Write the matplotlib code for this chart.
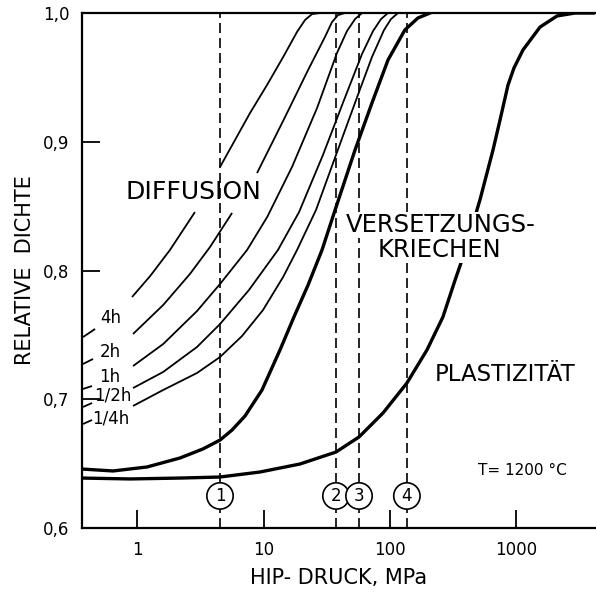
import matplotlib.pyplot as plt
import numpy as np

nan = np.nan

# HIP-Verdichtung bei T = 1200 °C: relative Dichte über HIP-Druck (MPa)
# nan = Lücke in der Linie (Beschriftung)
p_4h = [0.374, 0.466, nan, 0.913, 1.27, 1.82, 2.87, nan, 4.53, 7.82, 10.66, 14.3, 18.4, 21.3, 24.2, 28.0]
d_4h = [0.7483, 0.7546, nan, 0.7794, 0.7957, 0.8159, 0.8454, nan, 0.8804, 0.9223, 0.9441, 0.9658, 0.9853, 0.9946,
        0.9992, 1.0]

p_2h = [0.374, 0.449, nan, 0.93, 1.61, 2.62, 3.78, 5.64, nan, 8.89, 14.8, 22.5, 30.6, 34.8, 38.8, 44.1]
d_2h = [0.7274, 0.7313, nan, 0.7507, 0.7732, 0.7973, 0.8183, 0.8447, nan, 0.8757, 0.9192, 0.9557, 0.9814, 0.993,
        0.9984, 1.0]

p_1h = [0.374, 0.441, nan, 0.93, 1.61, 2.98, 4.53, 7.41, 10.7, 16.8, 26.5, 38.1, 45.7, 52.9, 60.1]
d_1h = [0.708, 0.7103, nan, 0.7258, 0.7429, 0.7685, 0.7895, 0.8159, 0.8416, 0.8804, 0.9262, 0.969, 0.986, 0.9953, 1.0]

p_half = [0.374, 0.441, nan, 0.93, 1.61, 2.98, 4.53, 7.68, 13.0, 19.1, 29.5, 43.3, 60.1, 73.4, 84.9, 96.4]
d_half = [0.694, 0.6971, nan, 0.7087, 0.7212, 0.7406, 0.7584, 0.7849, 0.8159, 0.8454, 0.8897, 0.9324, 0.9682, 0.986,
          0.9953, 1.0]

p_quarter = [0.374, 0.441, nan, 0.93, 1.61, 2.98, 4.53, 6.76, 9.91, 14.3, 18.4, 26.0, 37.4, 53.9, 72.0, 89.7, 101.8,
             115.7]
d_quarter = [0.6808, 0.6839, nan, 0.6948, 0.7072, 0.7204, 0.7328, 0.7491, 0.7693, 0.795, 0.8159, 0.847, 0.8897,
             0.9324, 0.9658, 0.9868, 0.9953, 1.0]

p_creep = [0.367, 0.646, 1.20, 2.19, 3.32, 4.53, 5.64, 7.14, 9.73, 13.5, 17.4, 22.5, 29.0, 36.8, 52.9, 72.0, 96.4,
           131, 166, 207]
d_creep = [0.6458, 0.6443, 0.6474, 0.6544, 0.6614, 0.6683, 0.6761, 0.687, 0.7072, 0.7383, 0.7639, 0.7887, 0.8159,
           0.847, 0.8936, 0.9301, 0.9635, 0.9868, 0.9961, 1.0]

p_plast = [0.367, 0.88, 2.19, 4.53, 9.38, 19.4, 37.4, 56.9, 88.0, 136, 196, 262, 327, 378, 514, 652, 741, 857,
           955, 1125, 1535, 2090, 2900, 4174]
d_plast = [0.6388, 0.6381, 0.6388, 0.6396, 0.6435, 0.6497, 0.659, 0.6707, 0.6893, 0.7126, 0.7383, 0.7639, 0.7926,
           0.8105, 0.8548, 0.8936, 0.9169, 0.9441, 0.9573, 0.9713, 0.9891, 0.9977, 1.0, 1.0]

marker_p = [4.53, 37.4, 56.9, 136]
marker_labels = ["1", "2", "3", "4"]

x_ticks = [1, 10, 100, 1000]
x_ticklabels = ["1", "10", "100", "1000"]
y_ticks = [0.6, 0.7, 0.8, 0.9, 1.0]
y_ticklabels = ["0,6", "0,7", "0,8", "0,9", "1,0"]

fig = plt.figure(figsize=(5.96, 5.92), dpi=100)
ax = fig.add_axes([0.1376, 0.1081, 0.8607, 0.8699])

for p, d in [(p_4h, d_4h), (p_2h, d_2h), (p_1h, d_1h), (p_half, d_half), (p_quarter, d_quarter)]:
    ax.plot(p, d, color='black', lw=1.3, solid_capstyle='butt', solid_joinstyle='round', zorder=2)
ax.plot(p_creep, d_creep, color='black', lw=2.4, solid_joinstyle='round', zorder=2)
ax.plot(p_plast, d_plast, color='black', lw=2.4, solid_joinstyle='round', zorder=2)

for p, lab in zip(marker_p, marker_labels):
    ax.axvline(p, color='black', lw=1.2, ls=(0, (6, 3)), zorder=1)
    ax.text(p, 0.6249, lab, ha='center', va='center', fontsize=12, zorder=5,
            bbox=dict(boxstyle='circle,pad=0.25', fc='white', ec='black', lw=1.2))

# Beschriftungen der Diffusionskurven
ax.text(0.623, 0.7631, "4h", ha='center', va='center', fontsize=12)
ax.text(0.612, 0.7367, "2h", ha='center', va='center', fontsize=12)
ax.text(0.612, 0.7173, "1h", ha='center', va='center', fontsize=12)
ax.text(0.646, 0.7033, "1/2h", ha='center', va='center', fontsize=12)
ax.text(0.623, 0.6854, "1/4h", ha='center', va='center', fontsize=12)

ax.text(2.77, 0.861, "DIFFUSION", ha='center', va='center', fontsize=18, zorder=4)
ax.text(253, 0.8353, "VERSETZUNGS-", ha='center', va='center', fontsize=17.5, zorder=4,
        bbox=dict(boxstyle='square,pad=0.05', fc='white', ec='none'))
ax.text(244, 0.8159, "KRIECHEN", ha='center', va='center', fontsize=17.5, zorder=4,
        bbox=dict(boxstyle='square,pad=0.05', fc='white', ec='none'))
ax.text(811, 0.7196, "PLASTIZITÄT", ha='center', va='center', fontsize=16.5, zorder=4)
ax.text(1105, 0.6443, "T= 1200 °C", ha='center', va='center', fontsize=11)

ax.set_xscale('log')
ax.set_xlim(0.3674, 4174)
ax.set_ylim(0.6, 1.0)
ax.set_xticks(x_ticks)
ax.set_xticklabels(x_ticklabels)
ax.set_yticks(y_ticks)
ax.set_yticklabels(y_ticklabels)
ax.minorticks_off()
ax.tick_params(direction='in', length=13, width=1.3, labelsize=12, pad=9)

ax.spines['right'].set_visible(False)
for s in ['left', 'top', 'bottom']:
    ax.spines[s].set_linewidth(1.6)

ax.set_xlabel("HIP- DRUCK, MPa", fontsize=15, labelpad=7)
ax.set_ylabel("RELATIVE  DICHTE", fontsize=15, labelpad=6)

fig.savefig('out.png', dpi=100)
